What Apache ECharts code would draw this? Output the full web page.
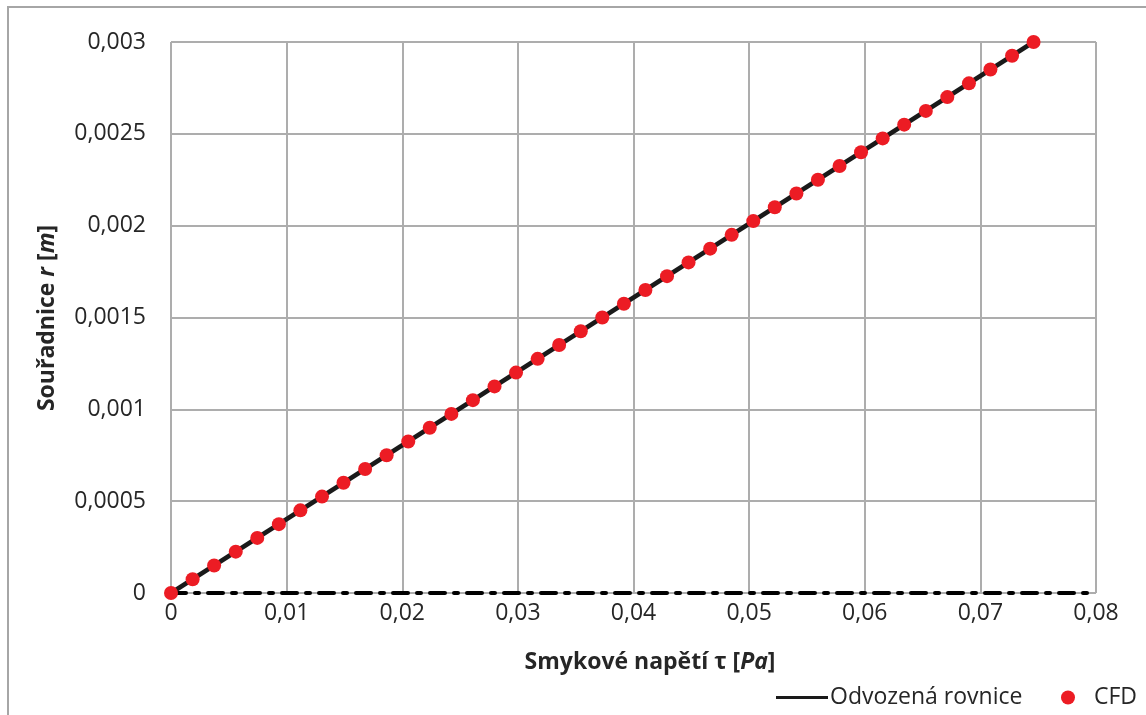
<!DOCTYPE html>
<html>
<head>
<meta charset="utf-8">
<script src="https://cdn.jsdelivr.net/npm/echarts@6/dist/echarts.min.js"></script>
<style>html,body{margin:0;padding:0;background:#fff;}#c{width:1146px;height:715px;}</style>
</head>
<body>
<div id="c"></div>
<script>
// Shear stress tau [Pa] (x) and coordinate r [m] (y) for CFD points
const tauCFD = [0, 0.00187, 0.00373, 0.00560, 0.00746, 0.00933, 0.01119, 0.01306, 0.01492, 0.01679,
  0.01865, 0.02052, 0.02238, 0.02425, 0.02611, 0.02798, 0.02984, 0.03171, 0.03357, 0.03544,
  0.03730, 0.03917, 0.04103, 0.04290, 0.04476, 0.04663, 0.04849, 0.05036, 0.05222, 0.05409,
  0.05595, 0.05782, 0.05968, 0.06155, 0.06341, 0.06528, 0.06714, 0.06901, 0.07087, 0.07274, 0.07460];
const rCFD = [0, 0.000075, 0.00015, 0.000225, 0.0003, 0.000375, 0.00045, 0.000525, 0.0006, 0.000675,
  0.00075, 0.000825, 0.0009, 0.000975, 0.00105, 0.001125, 0.0012, 0.001275, 0.00135, 0.001425,
  0.0015, 0.001575, 0.00165, 0.001725, 0.0018, 0.001875, 0.00195, 0.002025, 0.0021, 0.002175,
  0.00225, 0.002325, 0.0024, 0.002475, 0.00255, 0.002625, 0.0027, 0.002775, 0.00285, 0.002925, 0.003];
// Derived equation line
const tauEq = [0, 0.0746];
const rEq = [0, 0.003];
const xTicks = ['0', '0,01', '0,02', '0,03', '0,04', '0,05', '0,06', '0,07', '0,08'];
const yTicks = ['0', '0,0005', '0,001', '0,0015', '0,002', '0,0025', '0,003'];

const FONT = '"Open Sans", "Noto Sans", sans-serif';
const chart = echarts.init(document.getElementById('c'), null, {renderer: 'canvas'});
chart.setOption({
  animation: false,
  backgroundColor: '#fff',
  grid: {left: 171, right: 50, top: 42, bottom: 122, containLabel: false},
  graphic: [
    {type: 'rect', shape: {x: 8, y: 7, width: 1300, height: 900}, style: {fill: 'none', stroke: '#a6a6a6', lineWidth: 2}, z: -1},
    {type: 'text', x: 650, y: 662, style: {
      text: '{b|Smykové napětí τ [}{bi|Pa}{b|]}',
      rich: {
        b: {fontFamily: FONT, fontWeight: 'bold', fontSize: 23, fill: '#262626'},
        bi: {fontFamily: FONT, fontWeight: 'bold', fontStyle: 'italic', fontSize: 23, fill: '#262626'}
      },
      align: 'center', verticalAlign: 'middle'
    }},
    {type: 'text', x: 47, y: 318, rotation: Math.PI / 2, style: {
      text: '{b|Souřadnice }{bi|r}{b| [}{bi|m}{b|]}',
      rich: {
        b: {fontFamily: FONT, fontWeight: 'bold', fontSize: 23, fill: '#262626'},
        bi: {fontFamily: FONT, fontWeight: 'bold', fontStyle: 'italic', fontSize: 23, fill: '#262626'}
      },
      align: 'center', verticalAlign: 'middle'
    }}
  ],
  legend: [
    {data: [{name: 'Odvozená rovnice', icon: 'rect'}], left: 771, top: 681, itemWidth: 52, itemHeight: 3, itemGap: 0,
      textStyle: {fontFamily: FONT, fontSize: 23, color: '#262626', padding: [0, 0, 0, -3]}},
    {data: [{name: 'CFD', icon: 'circle'}], left: 1056, top: 681, itemWidth: 14, itemHeight: 14,
      textStyle: {fontFamily: FONT, fontSize: 23, color: '#262626', padding: [0, 0, 0, 14]}}
  ],
  xAxis: {
    type: 'value', min: 0, max: 0.08, interval: 0.01,
    axisLine: {show: true, onZero: false, lineStyle: {color: '#000', width: 4, type: [15, 9, 4, 9]}},
    axisTick: {show: false},
    axisLabel: {margin: 9, fontFamily: FONT, fontSize: 23, color: '#262626',
      formatter: function (v) { return xTicks[Math.round(v / 0.01)]; }},
    splitLine: {show: true, lineStyle: {color: '#adadad', width: 2}}
  },
  yAxis: {
    type: 'value', min: 0, max: 0.003, interval: 0.0005,
    axisLine: {show: false},
    axisTick: {show: false},
    axisLabel: {margin: 25, fontFamily: FONT, fontSize: 23, color: '#262626',
      formatter: function (v) { return yTicks[Math.round(v / 0.0005)]; }},
    splitLine: {show: true, lineStyle: {color: '#adadad', width: 2}}
  },
  series: [
    {name: 'Odvozená rovnice', type: 'line', symbol: 'none', z: 3,
      data: tauEq.map((t, i) => [t, rEq[i]]),
      lineStyle: {color: '#1a1a1a', width: 4.5}, itemStyle: {color: '#1a1a1a'}},
    {name: 'CFD', type: 'scatter', symbol: 'circle', symbolSize: 14, z: 4,
      data: tauCFD.map((t, i) => [t, rCFD[i]]),
      itemStyle: {color: '#ec1c24', opacity: 1}}
  ]
});
</script>
</body>
</html>
